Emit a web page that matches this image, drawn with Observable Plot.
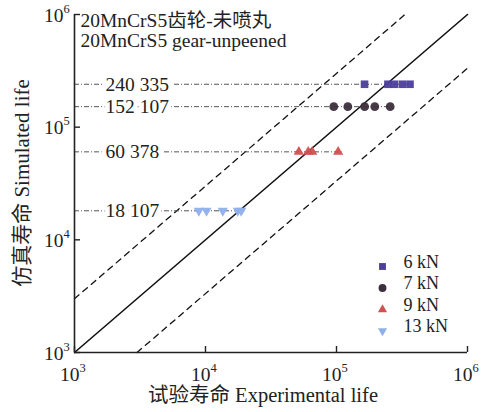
<!DOCTYPE html>
<html>
<head>
<meta charset="utf-8">
<script src="https://cdn.jsdelivr.net/npm/d3@7"></script>
<script src="https://cdn.jsdelivr.net/npm/@observablehq/plot@0.6"></script>
<style>
  html, body { margin: 0; padding: 0; background: #fff; }
  #chart svg { display: block; }
</style>
</head>
<body>
<div id="chart"></div>
<script>
// ---- data ----
const seriesNames = ["6 kN", "7 kN", "9 kN", "13 kN"];
const simulatedLife = [240335, 152107, 60378, 18107];
const simulatedLabels = ["240 335", "152 107", "60 378", "18 107"];
const exp6kN = [163700, 247000, 277000, 319000, 364000];
const exp7kN = [95300, 122000, 164000, 196000, 257000];
const exp9kN = [51600, 60800, 65300, 103000];
const exp13kN = [8890, 10180, 13550, 17650, 18720];
const tickValues = [1e3, 1e4, 1e5, 1e6];
const tickExponents = ["3", "4", "5", "6"];
const titleLines = ["20MnCrS5齿轮-未喷丸", "20MnCrS5 gear-unpeened"];
const xTitle = "试验寿命 Experimental life";
const yTitle = "仿真寿命 Simulated life";

// ---- styling ----
const colors = ["#4b3f9c", "#3b2f3b", "#d2504f", "#8fb0ec"];
const symbols = ["square", "circle", "triangle", "triangle"];
const rotations = [0, 0, 0, 180];
const radii = [4.3, 4.4, 3.8, 3.8];
const font = "'Liberation Serif', 'Times New Roman', 'Noto Sans CJK SC', serif";

const expLists = [exp6kN, exp7kN, exp9kN, exp13kN];
const points = expLists.flatMap((arr, i) =>
  arr.map(x => ({x, y: simulatedLife[i], s: i})));
const refs = simulatedLife.map((y, i) => ({
  y, label: simulatedLabels[i], xEnd: d3.max(expLists[i]) * 1.07
}));
const ticks = tickValues.map((v, i) => ({v, e: tickExponents[i]}));
const lo = tickValues[0], hi = tickValues[tickValues.length - 1];
const diag = [{x: lo, y: lo}, {x: hi, y: hi}];
const upper = [{x: lo, y: lo * 3}, {x: hi / 3, y: hi}];
const lower = [{x: lo * 3, y: lo}, {x: hi, y: hi / 3}];

const marks = [
  // diagonal lines
  Plot.line(diag, {x: "x", y: "y", stroke: "#111", strokeWidth: 1.6}),
  Plot.line(upper, {x: "x", y: "y", stroke: "#111", strokeWidth: 1.3, strokeDasharray: "6,5"}),
  Plot.line(lower, {x: "x", y: "y", stroke: "#111", strokeWidth: 1.3, strokeDasharray: "6,5"}),
  // reference dash-dot lines
  Plot.ruleY(refs, {y: "y", x1: lo, x2: "xEnd", stroke: "#555", strokeWidth: 1, strokeDasharray: "5,2,1,2"}),
  Plot.text(refs, {x: lo, y: "y", text: "label", textAnchor: "start", dx: 31,
    fontSize: 19.5, fill: "#222", stroke: "white", strokeWidth: 9.5, paintOrder: "stroke"}),
];
// points
seriesNames.forEach((name, i) => {
  marks.push(Plot.dot(points.filter(d => d.s === i), {
    x: "x", y: "y", symbol: symbols[i], r: radii[i], rotate: rotations[i],
    fill: colors[i], stroke: "none", fillOpacity: 0.95
  }));
});
// axes lines
marks.push(
  Plot.ruleX([lo], {stroke: "#222", strokeWidth: 1.6}),
  Plot.ruleY([lo], {stroke: "#222", strokeWidth: 1.6}),
  Plot.axisX({ticks: tickValues, tickSize: -6, tickFormat: () => "", stroke: "#222", strokeWidth: 1.4}),
  Plot.axisY({ticks: tickValues, tickSize: -6, tickFormat: () => "", stroke: "#222", strokeWidth: 1.4}),
  // tick labels
  Plot.text(ticks, {x: "v", y: lo, text: () => "10", textAnchor: "end", dx: 5, dy: 22, fontSize: 19.5, fill: "#222"}),
  Plot.text(ticks, {x: "v", y: lo, text: "e", textAnchor: "start", dx: 5, dy: 15, fontSize: 12.5, fill: "#222"}),
  Plot.text(ticks, {x: lo, y: "v", text: () => "10", textAnchor: "end", dx: -11, dy: 1, fontSize: 19.5, fill: "#222"}),
  Plot.text(ticks, {x: lo, y: "v", text: "e", textAnchor: "start", dx: -11, dy: -6, fontSize: 12.5, fill: "#222"}),
  // titles
  Plot.text([titleLines.join("\n")], {frameAnchor: "top-left", dx: 6, dy: -2, textAnchor: "start",
    lineAnchor: "top", lineHeight: 1.02, fontSize: 19.5, fill: "#222"}),
  Plot.text([xTitle], {frameAnchor: "bottom", dx: -8, dy: 49, textAnchor: "middle", fontSize: 20.5, fill: "#222"})
);
// legend
seriesNames.forEach((name, i) => {
  const dy = -86 + i * 21.5;
  marks.push(
    Plot.dot([name], {frameAnchor: "bottom-right", dx: -85, dy, symbol: symbols[i], r: radii[i] * 0.9,
      rotate: rotations[i], fill: colors[i], stroke: "none"}),
    Plot.text([name], {frameAnchor: "bottom-right", dx: -64, dy: dy + 1, textAnchor: "start", fontSize: 18, fill: "#222"})
  );
});

const W = 481, H = 412, mL = 74, mR = 14, mT = 14, mB = 60;
const chart = Plot.plot({
  width: W,
  height: H,
  marginLeft: mL,
  marginRight: mR,
  marginTop: mT,
  marginBottom: mB,
  style: {fontFamily: font, background: "white"},
  x: {type: "log", domain: [lo, hi], axis: null},
  y: {type: "log", domain: [lo, hi], axis: null},
  marks
});
// rotated y-axis title, centred on the frame
d3.select(chart).append("text")
  .attr("transform", `translate(${mL - 52},${(mT + H - mB) / 2}) rotate(-90)`)
  .attr("text-anchor", "middle")
  .attr("dy", "0.35em")
  .attr("font-size", 21)
  .attr("font-family", font)
  .attr("fill", "#222")
  .text(yTitle);
document.getElementById("chart").append(chart);
</script>
</body>
</html>
